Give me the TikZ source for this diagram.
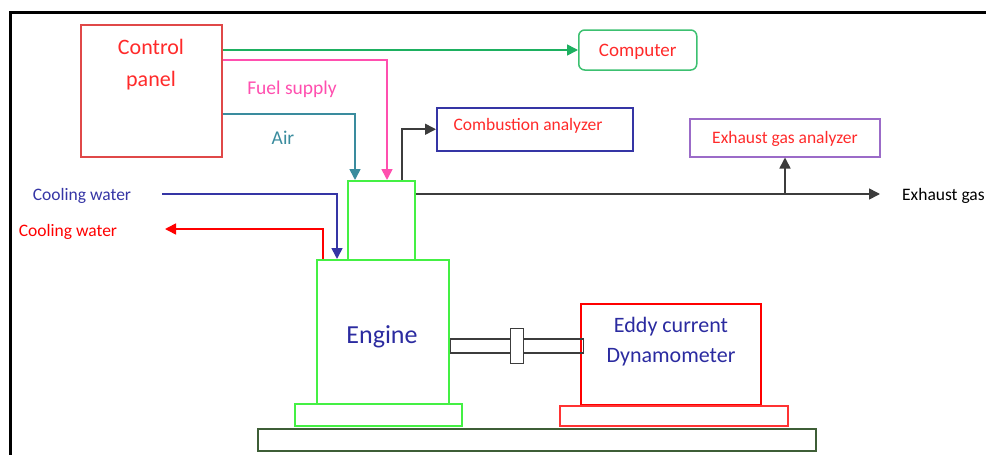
\documentclass[tikz,border=0pt]{standalone}
\usepackage{fontspec}
\setmainfont{Carlito}
\usepackage{xcolor}
\usetikzlibrary{positioning,arrows.meta,calc}
\definecolor{ctrlred}{HTML}{E04848}
\definecolor{txtred}{HTML}{FF2A2A}
\definecolor{linegreen}{HTML}{1DB060}
\definecolor{compgreen}{HTML}{3CC070}
\definecolor{fuelpink}{HTML}{FF4FAF}
\definecolor{airteal}{HTML}{3A8C9E}
\definecolor{coolblue}{HTML}{3535A5}
\definecolor{enggreen}{HTML}{44F044}
\definecolor{basegreen}{HTML}{3E5E36}
\definecolor{exviolet}{HTML}{9B6BC8}
\definecolor{txtblue}{HTML}{2B2BA0}
\definecolor{pipegray}{HTML}{3C3C3C}

\begin{document}
\begin{tikzpicture}[x=1pt,y=-1pt,
    box/.style={draw,line width=1.5pt,inner sep=0pt,anchor=north west},
    flow/.style={line width=1.6pt,-{Triangle[length=11pt,width=11pt]}},
    txt/.style={font=\fontsize{17.5}{20}\selectfont,inner sep=0pt},
    bigtxt/.style={font=\fontsize{22}{32}\selectfont,inner sep=0pt,align=center}
]
\useasboundingbox (0,0) rectangle (986,455);
\draw[line width=3pt] (10,470) |- (1000,12);

% control panel and computer
\node[box,ctrlred,minimum width=141pt,minimum height=132pt] (ctrl) at (80,24) {};
\node[bigtxt,txtred] (ctrltxt) at (151,65) {Control\\panel};
\node[box,compgreen,rounded corners=6pt,minimum width=118pt,minimum height=40pt,
      anchor=west,txt,font=\fontsize{19}{22}\selectfont,text depth=0pt,text=txtred] (comp) at (578,50) {Computer};

% engine and dynamometer
\node[box,enggreen,minimum width=67pt,minimum height=79pt] (head) at (347,180) {};
\node[box,enggreen,minimum width=132pt,minimum height=144pt] (eng) at (316,259) {};
\node[bigtxt,txtblue,font=\fontsize{26}{30}\selectfont] (engtxt) at (382,337) {Engine};
\node[box,enggreen,minimum width=167pt,minimum height=22pt] (engbase) at (294,403) {};
\node[box,basegreen,minimum width=558pt,minimum height=22pt] (ground) at (257,428) {};
\node[box,red,minimum width=180pt,minimum height=101pt] (dyno) at (580,303) {};
\node[bigtxt,txtblue,font=\fontsize{22}{30}\selectfont] (dynotxt) at (671,342) {Eddy current\\Dynamometer};
\node[box,red!80,minimum width=228pt,minimum height=20pt] (dynobase) at (559,405) {};
\node[box,pipegray,line width=1.2pt,minimum width=133pt,minimum height=14pt,anchor=west] (shaft) at (eng.east |- 0,346) {};
\node[draw,pipegray,fill=white,line width=1.2pt,minimum width=13pt,minimum height=35pt,inner sep=0pt] (coupling) at (517,346) {};

% analyzers
\node[box,coolblue,minimum width=196pt,minimum height=43pt] (comb) at (436,107) {};
\node[txt,txtred] (combtxt) at (528,126) {Combustion analyzer};
\node[box,exviolet,minimum width=190pt,minimum height=38pt,txt,text depth=0pt,text=txtred,anchor=north] (exan) at (785,118) {Exhaust gas analyzer};
\node[txt,anchor=west] (exgas) at (902,196) {Exhaust gas};

% labels
\node[txt,fuelpink,font=\fontsize{19.5}{22}\selectfont] (fueltxt) at (292,89) {Fuel supply};
\node[txt,airteal,font=\fontsize{19.5}{22}\selectfont] (airtxt) at (283,138) {Air};
\node[txt,coolblue] (cwintxt) at (82,196) {Cooling water};
\node[txt,red] (cwouttxt) at (68,232) {Cooling water};

\coordinate (exend) at (880,194);
\coordinate (cwin) at (162,194);
\coordinate (cwout) at (165,229);

% connectors
\draw[flow,linegreen] (ctrl.east |- comp.west) -- (comp.west);
\draw[flow,fuelpink] ($(ctrl.north east)+(0,36)$) -| ($(head.north west)+(40,0)$);
\draw[flow,airteal] ($(ctrl.north east)+(0,90)$) -| ($(head.north west)+(8,0)$);
\draw[flow,pipegray] ($(head.north west)+(55,0)$) |- (comb.west);
\draw[flow,pipegray] ($(head.north east)+(0,14)$) -- (exend);
\draw[flow,pipegray] (exan.south |- exend) -- (exan.south);
\draw[flow,coolblue] (cwin) -| ($(eng.north west)+(21,0)$);
\draw[flow,red] ($(eng.north west)+(7,0)$) |- (cwout);

\end{tikzpicture}
\end{document}
